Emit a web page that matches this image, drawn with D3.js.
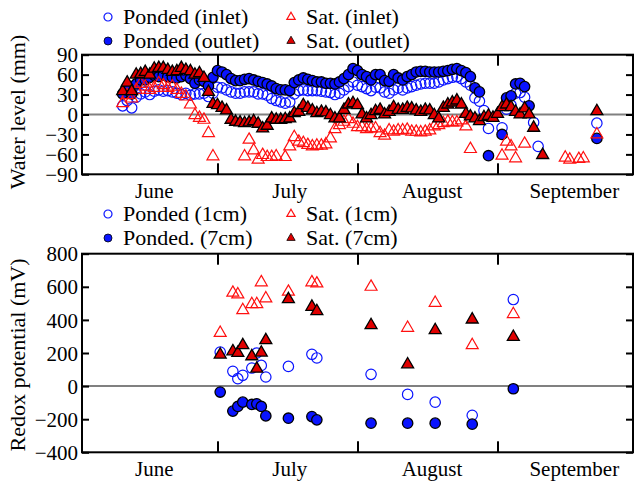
<!DOCTYPE html>
<html>
<head>
<meta charset="utf-8">
<script src="https://cdn.jsdelivr.net/npm/d3@7"></script>
<style>
  body { margin: 0; background: #fff; }
  text { font-family: "Liberation Serif", "Times New Roman", serif; fill: #000; }
</style>
</head>
<body>
<div id="chart"></div>
<script>
// days counted from June 1
var monthStarts = [30, 61, 92];
var monthNames = ["June", "July", "August", "September"];
var monthLabelDays = [16, 46, 77.5, 109];

var levelTicks = [-90, -60, -30, 0, 30, 60, 90];
var redoxTicks = [-400, -200, 0, 200, 400, 600, 800];

// water level (mm)
var pondedInlet = [[9,13],[10,21],[11,10],[12,26],[13,31],[14,34],[15,30],[16,35],[17,37],[18,35],[19,36],[20,34],[21,32],[22,30],[23,32],[24,29],[25,31],[26,31],[27,32],[28,27],[29,32],[30,41],[31,40],[32,37],[33,34],[34,32],[35,32],[36,34],[37,34],[38,34],[39,31],[40,31],[41,29],[42,24],[43,21],[44,19],[45,17],[46,19],[47,31],[48,36],[49,37],[50,36],[51,36],[52,36],[53,35],[54,34],[55,33],[56,30],[57,32],[58,37],[59,42],[60,49],[61,44],[62,42],[63,39],[64,36],[65,41],[66,40],[67,34],[68,32],[69,37],[70,40],[71,37],[72,40],[73,42],[74,44],[75,46],[76,47],[77,47],[78,47],[79,49],[80,52],[81,54],[82,56],[83,57],[84,54],[85,49],[86,44],[87,25],[88,20],[89,6],[90,-21],[93,-20],[94,8],[95,14],[96,32],[97,33],[98,26],[100,-12],[101,-48],[114,-13]];
var pondedOutlet = [[9,31],[10,37],[11,31],[12,46],[13,52],[14,52],[15,56],[16,59],[17,57],[18,60],[19,57],[20,56],[21,55],[22,57],[23,59],[24,54],[25,47],[26,52],[27,50],[28,43],[29,56],[30,66],[31,64],[32,60],[33,54],[34,51],[35,51],[36,53],[37,54],[38,52],[39,50],[40,48],[41,46],[42,43],[43,39],[44,37],[45,37],[46,36],[47,48],[48,52],[49,55],[50,53],[51,51],[52,49],[53,49],[54,47],[55,47],[56,46],[57,49],[58,54],[59,60],[60,69],[61,66],[62,60],[63,57],[64,52],[65,60],[66,60],[67,51],[68,50],[69,60],[70,55],[71,52],[72,57],[73,60],[74,64],[75,65],[76,65],[77,64],[78,64],[79,64],[80,65],[81,66],[82,68],[83,69],[84,66],[85,63],[86,57],[87,40],[88,34],[90,-62],[93,-30],[94,25],[95,28],[96,46],[97,47],[98,42],[99,13],[114,-36]];
var satInlet = [[9,17],[10,29],[11,24],[12,37],[13,46],[14,42],[15,37],[16,40],[17,47],[18,44],[19,40],[20,42],[21,37],[22,31],[23,27],[24,15],[25,-1],[26,-5],[27,-8],[28,-28],[29,-63],[36,-63],[37,-38],[38,-54],[39,-68],[40,-61],[41,-64],[42,-64],[43,-63],[45,-64],[46,-48],[47,-34],[48,-41],[49,-43],[50,-46],[51,-48],[52,-47],[53,-47],[54,-45],[55,-36],[56,-22],[57,-16],[58,-11],[59,-7],[60,-14],[61,-19],[62,-19],[63,-22],[64,-21],[65,-21],[66,-28],[67,-32],[68,-24],[69,-26],[70,-24],[71,-24],[72,-23],[73,-26],[74,-26],[75,-27],[76,-26],[77,-24],[78,-18],[79,-16],[80,-13],[81,-11],[82,-12],[83,-12],[84,-9],[85,-18],[86,-52],[93,-62],[94,-41],[95,-48],[96,-66],[98,-44],[107,-65],[108,-68],[110,-67],[111,-66],[114,-30]];
var satOutlet = [[9,35],[10,48],[11,35],[12,60],[13,61],[14,64],[15,60],[16,69],[17,70],[18,70],[19,67],[20,64],[21,65],[22,70],[23,67],[24,65],[25,60],[26,62],[27,55],[28,34],[29,16],[30,14],[31,10],[32,6],[33,-8],[34,-11],[35,-12],[36,-13],[37,-12],[38,-10],[39,-14],[40,-21],[41,-17],[42,-6],[43,-8],[44,-8],[45,-7],[46,-6],[47,2],[48,4],[49,14],[50,10],[51,6],[52,2],[53,4],[54,3],[55,-1],[56,-6],[57,-6],[58,7],[59,15],[60,17],[61,14],[62,0],[63,-6],[64,-1],[65,5],[66,7],[67,0],[68,4],[69,11],[70,7],[71,7],[72,10],[73,9],[74,6],[75,4],[76,7],[77,6],[78,-1],[79,-6],[80,10],[81,15],[82,18],[83,21],[84,15],[85,1],[86,-3],[87,-6],[88,-10],[89,-4],[90,-2],[91,-5],[92,1],[93,11],[94,15],[95,11],[96,4],[97,0],[98,9],[99,0],[100,-20],[102,-61],[114,5]];

// redox potential (mV)
var redoxDays = [30.6, 33.4, 34.5, 35.6, 37.6, 38.7, 39.7, 40.7, 45.7, 50.9, 52, 64, 72.1, 78.2, 86.4, 95.5];
var ponded1cm = [206, 89, 45, 65, 109, 200, 125, 55, 119, 192, 170, 71, -50, -97, -176, 523];
var ponded7cm = [-36, -151, -123, -97, -111, -107, -123, -180, -194, -184, -204, -224, -224, -224, -230, -16];
var sat1cm = [321, 564, 554, 459, 495, 495, 627, 530, 570, 627, 620, 600, 352, 503, 247, 435];
var sat7cm = [190, 210, 200, 247, 180, 105, 202, 277, 525, 479, 453, 368, 131, 338, 402, 297];

var width = 635, height = 481;
var blue = "#0a14ff", red = "#ff1010", darkRed = "#e00000";

var svg = d3.select("#chart").append("svg")
    .attr("width", width)
    .attr("height", height);

var x = d3.scaleLinear().domain([0, 122]).range([82, 633]);

function drawPanel(y, ticks, top, bottom, title, titleY){
    var g = svg.append("g");
    var left = x.range()[0], right = x.range()[1];

    g.append("line")
        .attr("x1", left).attr("x2", right)
        .attr("y1", y(0)).attr("y2", y(0))
        .attr("stroke", "#808080")
        .attr("stroke-width", 2);

    var yl = g.append("g").attr("transform", "translate(" + left + ",0)")
        .call(d3.axisLeft(y).tickValues(ticks).tickSize(-7).tickPadding(4));
    var yr = g.append("g").attr("transform", "translate(" + right + ",0)")
        .call(d3.axisRight(y).tickValues(ticks).tickSize(-7).tickFormat(""));
    var xb = g.append("g").attr("transform", "translate(0," + bottom + ")")
        .call(d3.axisBottom(x).tickValues(monthStarts).tickSize(-11).tickFormat(""));
    var xt = g.append("g").attr("transform", "translate(0," + top + ")")
        .call(d3.axisTop(x).tickValues(monthStarts).tickSize(-11).tickFormat(""));
    [yl, yr, xb, xt].forEach(function(a){
        a.select(".domain").remove();
        a.selectAll("line").attr("stroke", "#000").attr("stroke-width", 2);
    });
    yl.selectAll("text")
        .style("font-family", "Liberation Serif")
        .style("font-size", "21px")
        .attr("dy", "0.34em");

    g.append("rect")
        .attr("x", left).attr("y", top)
        .attr("width", right - left).attr("height", bottom - top)
        .attr("fill", "none")
        .attr("stroke", "#000")
        .attr("stroke-width", 2);

    g.selectAll(".month")
        .data(monthNames)
        .enter()
        .append("text")
        .attr("x", function(d, i){ return x(monthLabelDays[i]); })
        .attr("y", bottom + 24)
        .attr("text-anchor", "middle")
        .style("font-size", "21px")
        .text(function(d){ return d; });

    g.append("text")
        .attr("transform", "translate(25," + titleY + ") rotate(-90)")
        .attr("text-anchor", "middle")
        .style("font-size", "22px")
        .text(title);
    return g;
}

var tri = d3.symbol().type(d3.symbolTriangle);

function drawSeries(g, pts, y, shape, filled){
    var sel = g.append("g").selectAll("path")
        .data(pts)
        .enter()
        .append("path")
        .attr("transform", function(d){ return "translate(" + x(d[0]) + "," + y(d[1]) + ")"; });
    if (shape == "circle"){
        sel.attr("d", d3.symbol().type(d3.symbolCircle).size(Math.PI * 5.2 * 5.2)())
            .attr("fill", filled ? blue : "none")
            .attr("stroke", filled ? "#000" : blue)
            .attr("stroke-width", filled ? 1.3 : 1.2);
    }
    else {
        sel.attr("d", tri.size(62)())
            .attr("fill", filled ? darkRed : "none")
            .attr("stroke", filled ? "#000" : red)
            .attr("stroke-width", filled ? 1.3 : 1.2);
    }
}

function drawLegend(items, y0){
    var g = svg.append("g");
    items.forEach(function(it, i){
        var cx = (i < 2) ? 108 : 291;
        var cy = y0 + (i % 2) * 24;
        var p = g.append("path").attr("transform", "translate(" + cx + "," + cy + ")");
        if (it.shape == "circle"){
            p.attr("d", d3.symbol().type(d3.symbolCircle).size(Math.PI * 16)())
                .attr("fill", it.filled ? blue : "none")
                .attr("stroke", it.filled ? "#000" : blue)
                .attr("stroke-width", it.filled ? 0.8 : 1.2);
        }
        else {
            p.attr("d", d3.symbol().type(d3.symbolTriangle).size(30)())
                .attr("fill", it.filled ? darkRed : "none")
                .attr("stroke", it.filled ? "#000" : red)
                .attr("stroke-width", it.filled ? 0.8 : 1.2);
        }
        g.append("text")
            .attr("x", cx + 15)
            .attr("y", cy)
            .attr("dy", "0.34em")
            .style("font-size", "22px")
            .text(it.label);
    });
}

// top panel: water level
var yTop = d3.scaleLinear().domain([-90, 90]).range([174.3, 54.7]);
var gTop = drawPanel(yTop, levelTicks, 54.7, 174.3, "Water level (mm)", 112);
drawSeries(gTop, pondedInlet, yTop, "circle", false);
drawSeries(gTop, pondedOutlet, yTop, "circle", true);
drawSeries(gTop, satInlet, yTop, "triangle", false);
drawSeries(gTop, satOutlet, yTop, "triangle", true);
drawLegend([
    {label: "Ponded (inlet)", shape: "circle", filled: false},
    {label: "Ponded (outlet)", shape: "circle", filled: true},
    {label: "Sat. (inlet)", shape: "triangle", filled: false},
    {label: "Sat. (outlet)", shape: "triangle", filled: true}
], 17);

// bottom panel: redox potential
var yBot = d3.scaleLinear().domain([-400, 800]).range([452.3, 253.7]);
var gBot = drawPanel(yBot, redoxTicks, 253.7, 452.3, "Redox potential (mV)", 355);
function zip(vals){ return redoxDays.map(function(d, i){ return [d, vals[i]]; }); }
drawSeries(gBot, zip(ponded1cm), yBot, "circle", false);
drawSeries(gBot, zip(ponded7cm), yBot, "circle", true);
drawSeries(gBot, zip(sat1cm), yBot, "triangle", false);
drawSeries(gBot, zip(sat7cm), yBot, "triangle", true);
drawLegend([
    {label: "Ponded (1cm)", shape: "circle", filled: false},
    {label: "Ponded. (7cm)", shape: "circle", filled: true},
    {label: "Sat. (1cm)", shape: "triangle", filled: false},
    {label: "Sat. (7cm)", shape: "triangle", filled: true}
], 214);
</script>
</body>
</html>
